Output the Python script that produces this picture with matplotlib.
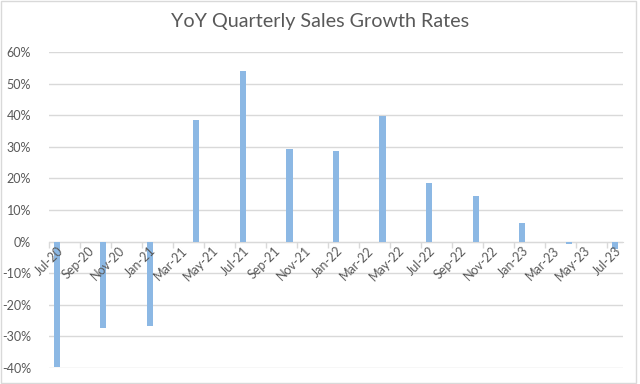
import matplotlib
matplotlib.use("Agg")
from matplotlib import pyplot as plt
from matplotlib.patches import Rectangle
from matplotlib.ticker import FixedLocator, FuncFormatter

plt.rcParams['font.family'] = ['Lato', 'DejaVu Sans']

# monthly date axis, Jul-20 .. Jul-23
months = ["Jul-20", "Aug-20", "Sep-20", "Oct-20", "Nov-20", "Dec-20",
          "Jan-21", "Feb-21", "Mar-21", "Apr-21", "May-21", "Jun-21",
          "Jul-21", "Aug-21", "Sep-21", "Oct-21", "Nov-21", "Dec-21",
          "Jan-22", "Feb-22", "Mar-22", "Apr-22", "May-22", "Jun-22",
          "Jul-22", "Aug-22", "Sep-22", "Oct-22", "Nov-22", "Dec-22",
          "Jan-23", "Feb-23", "Mar-23", "Apr-23", "May-23", "Jun-23",
          "Jul-23"]

quarters = ["Jul-20", "Oct-20", "Jan-21", "Apr-21", "Jul-21", "Oct-21", "Jan-22",
            "Apr-22", "Jul-22", "Oct-22", "Jan-23", "Apr-23", "Jul-23"]
growth = [-39.9, -27.3, -26.7, 38.6, 54.2, 29.4, 28.8,
          39.8, 18.6, 14.5, 5.9, -0.8, -2.3]

grey = "#595959"
grid_grey = "#d9d9d9"

fig = plt.figure(figsize=(6.4, 3.84), dpi=100)
ax = fig.add_axes([49 / 640, 1 - 367.7 / 384, 574 / 640, 315.4 / 384])

# spine position first: set_position resets the ticks
for s in ["left", "right", "top"]:
    ax.spines[s].set_visible(False)
ax.spines["bottom"].set_position(("data", 0))
ax.spines["bottom"].set_color(grid_grey)
ax.spines["bottom"].set_zorder(0.8)

x = [months.index(q) for q in quarters]
ax.bar(x, [g / 100 for g in growth], width=0.4, color="#8cb8e4", zorder=1)

ax.set_xlim(-0.5, len(months) - 0.5)
ax.set_ylim(-0.4, 0.6)

# grid behind the bars, date labels on top of them
ax.yaxis.set_zorder(0.5)
ax.xaxis.set_zorder(3)

ax.yaxis.set_major_locator(FixedLocator([i / 10 for i in range(-4, 7)]))
ax.yaxis.set_major_formatter(FuncFormatter(lambda v, p: "%d%%" % round(v * 100)))
ax.grid(True, axis="y", color=grid_grey, linewidth=1)
ax.tick_params(axis="y", length=0, pad=13, labelsize=9, labelcolor=grey)

label_pos = list(range(0, len(months), 2))
ax.set_xticks(label_pos)
ax.set_xticklabels([months[i] for i in label_pos])
ax.set_xticks([i - 0.5 for i in range(0, len(months), 2)], minor=True)
ax.tick_params(axis="x", which="major", length=0, pad=2, labelsize=9, labelcolor=grey)
ax.tick_params(axis="x", which="minor", length=4, width=1, color=grid_grey, direction="out")
plt.setp(ax.get_xticklabels(), rotation=45, ha="right", rotation_mode="anchor")

fig.text(0.5, 1 - 22 / 384, "YoY Quarterly Sales Growth Rates", ha="center", va="center",
         fontsize=14.2, color=grey)

fig.patches.append(Rectangle((1 / 640, 1 / 384), 635 / 640, 382 / 384, transform=fig.transFigure,
                             fill=False, edgecolor=grid_grey, linewidth=1))

plt.savefig("out.png", dpi=100)
